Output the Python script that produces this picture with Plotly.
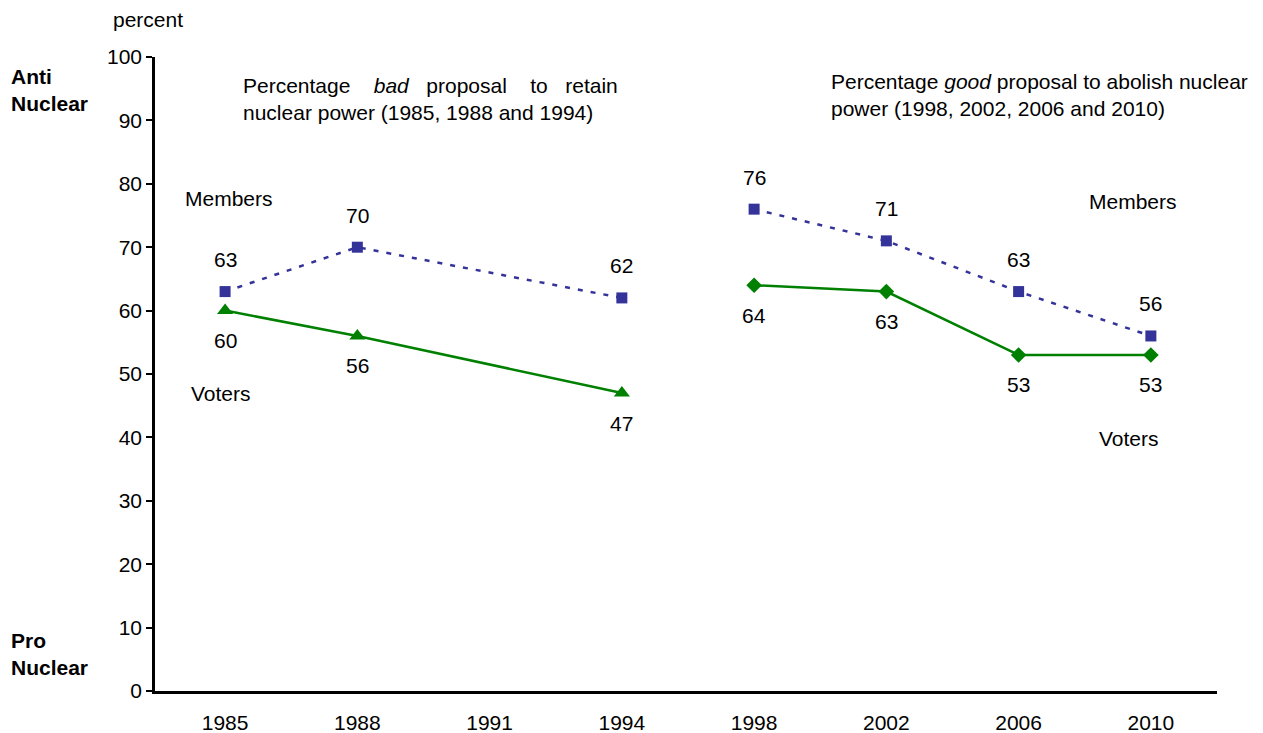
import plotly.graph_objects as go

categories = ["1985", "1988", "1991", "1994", "1998", "2002", "2006", "2010"]

members_left_x = ["1985", "1988", "1994"]
members_left_y = [63, 70, 62]
voters_left_x = ["1985", "1988", "1994"]
voters_left_y = [60, 56, 47]

members_right_x = ["1998", "2002", "2006", "2010"]
members_right_y = [76, 71, 63, 56]
voters_right_x = ["1998", "2002", "2006", "2010"]
voters_right_y = [64, 63, 53, 53]

y_ticks = list(range(0, 101, 10))

FONT = "Liberation Sans, Arial, sans-serif"
FS = 21
BLUE = "#333399"
GREEN = "#008000"

# page body has an 8px margin; figure sized to fill the rest of the window
OFF = 8
FIG_W, FIG_H = 1263 - OFF, 733 - OFF
# plot area in reference-window pixels
PL, PR, PT, PB = 155, 1217, 57, 691
W, H = PR - PL, PB - PT

fig = go.Figure()

member_line = dict(color=BLUE, width=2.5, dash="5px,8px")
voter_line = dict(color=GREEN, width=2.5)

fig.add_trace(go.Scatter(x=members_left_x, y=members_left_y, mode="lines+markers",
                         line=member_line, marker=dict(symbol="square", size=11, color=BLUE),
                         showlegend=False, hoverinfo="x+y"))
fig.add_trace(go.Scatter(x=members_right_x, y=members_right_y, mode="lines+markers",
                         line=member_line, marker=dict(symbol="square", size=11, color=BLUE),
                         showlegend=False, hoverinfo="x+y"))
fig.add_trace(go.Scatter(x=voters_left_x, y=voters_left_y, mode="lines+markers",
                         line=voter_line, marker=dict(symbol="triangle-up", size=14, color=GREEN),
                         showlegend=False, hoverinfo="x+y"))
fig.add_trace(go.Scatter(x=voters_right_x, y=voters_right_y, mode="lines+markers",
                         line=voter_line, marker=dict(symbol="diamond", size=12, color=GREEN),
                         showlegend=False, hoverinfo="x+y"))

annotations = []
for xs, ys in [(members_left_x, members_left_y), (members_right_x, members_right_y)]:
    for x, y in zip(xs, ys):
        annotations.append(dict(x=categories.index(x), y=y, xref="x", yref="y", text=str(y),
                                showarrow=False, yshift=32, xanchor="center", yanchor="middle",
                                font=dict(family=FONT, size=FS, color="black")))
for xs, ys in [(voters_left_x, voters_left_y), (voters_right_x, voters_right_y)]:
    for x, y in zip(xs, ys):
        annotations.append(dict(x=categories.index(x), y=y, xref="x", yref="y", text=str(y),
                                showarrow=False, yshift=-30, xanchor="center", yanchor="middle",
                                font=dict(family=FONT, size=FS, color="black")))


def pt(text, px, py, xanchor="left", yanchor="middle"):
    return dict(x=(px - PL) / W, y=1 - (py - PT) / H, xref="paper", yref="paper", text=text,
                showarrow=False, xanchor=xanchor, yanchor=yanchor, align="left",
                font=dict(family=FONT, size=FS, color="black"))


nb = "\u00a0"
annotations += [
    pt("percent", 111, 20),
    pt("<b>Anti</b><br><b>Nuclear</b>", 9, 90),
    pt("<b>Pro</b><br><b>Nuclear</b>", 9, 654),
    pt("Percentage" + nb * 4 + "<i>bad</i>" + nb * 3 + "proposal" + nb * 4 + "to" + nb * 3
       + "retain<br>nuclear power (1985, 1988 and 1994)", 241, 99),
    pt("Percentage <i>good</i> proposal to abolish nuclear<br>power (1998, 2002, 2006 and 2010)", 829, 95),
    pt("Members", 183, 199),
    pt("Voters", 189, 393),
    pt("Members", 1087, 201),
    pt("Voters", 1097, 438),
]

fig.update_layout(
    width=FIG_W, height=FIG_H,
    margin=dict(l=PL - OFF, r=FIG_W - (PR - OFF), t=PT - OFF, b=FIG_H - (PB - OFF), autoexpand=False),
    paper_bgcolor="white", plot_bgcolor="white",
    font=dict(family=FONT, size=FS, color="black"),
    annotations=annotations,
    xaxis=dict(type="category", categoryorder="array", categoryarray=categories,
               range=[-0.53, 7.5], showgrid=False, zeroline=False,
               showline=True, linecolor="black", linewidth=2.5,
               ticks="", ticklabelstandoff=11, tickfont=dict(family=FONT, size=FS, color="black"),
               fixedrange=True),
    yaxis=dict(range=[0, 100], tickvals=y_ticks, showgrid=False, zeroline=False,
               showline=True, linecolor="black", linewidth=2.5,
               ticks="outside", ticklen=6, tickwidth=2, tickcolor="black",
               tickfont=dict(family=FONT, size=FS, color="black"), fixedrange=True),
)

fig.write_html("out.html")
